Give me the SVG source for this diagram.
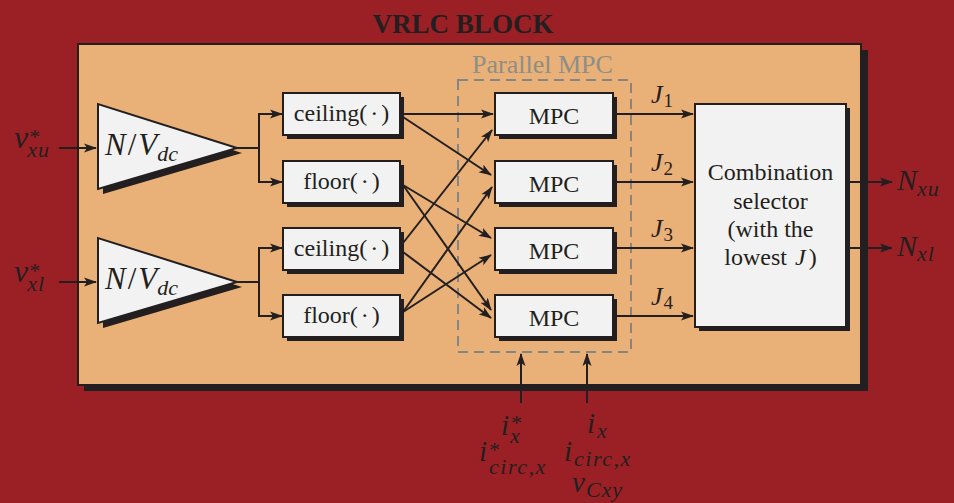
<svg xmlns="http://www.w3.org/2000/svg" width="954" height="503" viewBox="0 0 954 503" font-family="Liberation Serif, serif">
<style>
.box{fill:#F2F2F2;stroke:#231F20;stroke-width:2}
.sh{fill:#231F20}
.t{font-size:24px;fill:#231F20;text-anchor:middle}
.m{font-style:italic;fill:#231F20}
.u{font-style:normal}
.ln{stroke:#231F20;stroke-width:2;fill:none}
.ar{marker-end:url(#ah)}
</style>
<defs>
<marker id="ah" markerWidth="14" markerHeight="10" refX="12" refY="5" orient="auto" markerUnits="userSpaceOnUse">
<path d="M0,0.5 L13,5 L0,9.5 L3,5 z" fill="#231F20"/>
</marker>
</defs>
<rect width="954" height="503" fill="#9B2025"/>
<text x="463" y="33" font-weight="bold" font-size="27" fill="#231F20" text-anchor="middle">VRLC BLOCK</text>
<g id="vrlc-block">
<rect class="sh" x="84" y="50" width="784" height="341"/>
<rect x="78" y="44" width="783" height="341" fill="#E9B077" stroke="#231F20" stroke-width="2"/>
</g>
<g id="parallel-mpc">
<rect x="458" y="80" width="173" height="272" fill="none" stroke="#858585" stroke-width="2" stroke-dasharray="10,6"/>
<text x="472" y="73" font-size="26" fill="#8E8E86">Parallel MPC</text>
</g>
<g id="gain-u">
<polygon class="sh" points="103,109 103,194 242,153"/>
<polygon class="box" points="98,104 98,189 237,148"/>
<text class="m" x="105" y="155" font-size="31">N<tspan class="u" dx="2">/</tspan><tspan dx="2">V</tspan><tspan font-size="22" dy="6">dc</tspan></text>
</g>
<g id="gain-l">
<polygon class="sh" points="103,243 103,328 242,287"/>
<polygon class="box" points="98,238 98,323 237,282"/>
<text class="m" x="105" y="289" font-size="31">N<tspan class="u" dx="2">/</tspan><tspan dx="2">V</tspan><tspan font-size="22" dy="6">dc</tspan></text>
</g>
<g id="ceil-u">
<rect class="sh" x="287" y="97" width="117" height="42"/>
<rect class="box" x="283" y="93" width="117" height="42"/>
<text class="t" x="341.5" y="121">ceiling(<tspan dx="3">·</tspan><tspan dx="3">)</tspan></text>
</g>
<g id="floor-u">
<rect class="sh" x="287" y="165" width="117" height="42"/>
<rect class="box" x="283" y="161" width="117" height="42"/>
<text class="t" x="341.5" y="189">floor(<tspan dx="3">·</tspan><tspan dx="3">)</tspan></text>
</g>
<g id="ceil-l">
<rect class="sh" x="287" y="232" width="117" height="42"/>
<rect class="box" x="283" y="228" width="117" height="42"/>
<text class="t" x="341.5" y="256">ceiling(<tspan dx="3">·</tspan><tspan dx="3">)</tspan></text>
</g>
<g id="floor-l">
<rect class="sh" x="287" y="299" width="117" height="42"/>
<rect class="box" x="283" y="295" width="117" height="42"/>
<text class="t" x="341.5" y="323">floor(<tspan dx="3">·</tspan><tspan dx="3">)</tspan></text>
</g>
<g id="mpc1">
<rect class="sh" x="499" y="97" width="118" height="42"/>
<rect class="box" x="495" y="93" width="118" height="42"/>
<text class="t" x="554" y="124" font-size="25">MPC</text>
</g>
<g id="mpc2">
<rect class="sh" x="499" y="165" width="118" height="42"/>
<rect class="box" x="495" y="161" width="118" height="42"/>
<text class="t" x="554" y="192" font-size="25">MPC</text>
</g>
<g id="mpc3">
<rect class="sh" x="499" y="232" width="118" height="42"/>
<rect class="box" x="495" y="228" width="118" height="42"/>
<text class="t" x="554" y="259" font-size="25">MPC</text>
</g>
<g id="mpc4">
<rect class="sh" x="499" y="299" width="118" height="42"/>
<rect class="box" x="495" y="295" width="118" height="42"/>
<text class="t" x="554" y="326" font-size="25">MPC</text>
</g>
<g id="selector">
<rect class="sh" x="699" y="108" width="151" height="223"/>
<rect class="box" x="695" y="104" width="151" height="223"/>
<text class="t" x="770.5" y="180">Combination</text>
<text class="t" x="770.5" y="209">selector</text>
<text class="t" x="770.5" y="237">(with the</text>
<text class="t" x="770.5" y="265">lowest <tspan font-style="italic" dx="2">J</tspan><tspan dx="3">)</tspan></text>
</g>
<g id="connectors">
<line class="ln ar" x1="59" y1="148" x2="96" y2="148"/>
<line class="ln ar" x1="59" y1="282" x2="96" y2="282"/>
<polyline class="ln" points="237,148 259,148"/>
<polyline class="ln ar" points="259,148 259,114 282,114"/>
<polyline class="ln ar" points="259,148 259,182 282,182"/>
<polyline class="ln" points="237,282 259,282"/>
<polyline class="ln ar" points="259,282 259,248 282,248"/>
<polyline class="ln ar" points="259,282 259,316 282,316"/>
<line class="ln ar" x1="403" y1="114" x2="493" y2="114"/>
<line class="ln ar" x1="403" y1="117" x2="491" y2="175"/>
<line class="ln ar" x1="403" y1="185" x2="491" y2="238"/>
<line class="ln ar" x1="403" y1="185" x2="491" y2="310"/>
<line class="ln ar" x1="403" y1="243" x2="492" y2="130"/>
<line class="ln ar" x1="403" y1="252" x2="491" y2="318"/>
<line class="ln ar" x1="403" y1="312" x2="492" y2="187"/>
<line class="ln ar" x1="403" y1="312" x2="491" y2="255"/>
<line class="ln ar" x1="617" y1="114" x2="693" y2="114"/>
<line class="ln ar" x1="617" y1="182" x2="693" y2="182"/>
<line class="ln ar" x1="617" y1="248" x2="693" y2="248"/>
<line class="ln ar" x1="617" y1="316" x2="693" y2="316"/>
<line class="ln ar" x1="850" y1="182" x2="892" y2="182"/>
<line class="ln ar" x1="850" y1="248" x2="892" y2="248"/>
<line class="ln ar" x1="521" y1="403" x2="521" y2="354"/>
<line class="ln ar" x1="587" y1="403" x2="587" y2="354"/>
</g>
<g id="labels">
<text class="m" x="14" y="148" font-size="32">v<tspan class="u" font-size="22" dx="1" dy="-4">*</tspan><tspan font-size="22" dx="-13" dy="13" letter-spacing="1">xu</tspan></text>
<text class="m" x="14" y="282" font-size="32">v<tspan class="u" font-size="22" dx="1" dy="-4">*</tspan><tspan font-size="22" dx="-13" dy="13" letter-spacing="1">xl</tspan></text>
<text class="m" x="651" y="103" font-size="26">J<tspan class="u" font-size="19" dx="1" dy="4">1</tspan></text>
<text class="m" x="651" y="171" font-size="26">J<tspan class="u" font-size="19" dx="1" dy="4">2</tspan></text>
<text class="m" x="651" y="237" font-size="26">J<tspan class="u" font-size="19" dx="1" dy="4">3</tspan></text>
<text class="m" x="651" y="305" font-size="26">J<tspan class="u" font-size="19" dx="1" dy="4">4</tspan></text>
<text class="m" x="897" y="190" font-size="30">N<tspan font-size="22" dy="6" letter-spacing="1">xu</tspan></text>
<text class="m" x="897" y="256" font-size="30">N<tspan font-size="22" dy="5" letter-spacing="1">xl</tspan></text>
<text class="m" x="501" y="435" font-size="29">i<tspan class="u" font-size="22" dx="2" dy="-5">*</tspan><tspan font-size="22" dx="-12" dy="13">x</tspan></text>
<text class="m" x="587" y="433" font-size="29">i<tspan font-size="22" dx="2" dy="5">x</tspan></text>
<text class="m" x="479" y="461" font-size="29">i<tspan class="u" font-size="22" dx="2" dy="-4">*</tspan><tspan font-size="22" dx="-11" dy="17" letter-spacing="1.5">circ,x</tspan></text>
<text class="m" x="564" y="461" font-size="29">i<tspan font-size="22" dx="2" dy="5" letter-spacing="1.5">circ,x</tspan></text>
<text class="m" x="572" y="492" font-size="29">v<tspan font-size="22" dx="1" dy="5" letter-spacing="1">Cxy</tspan></text>
</g>
</svg>
